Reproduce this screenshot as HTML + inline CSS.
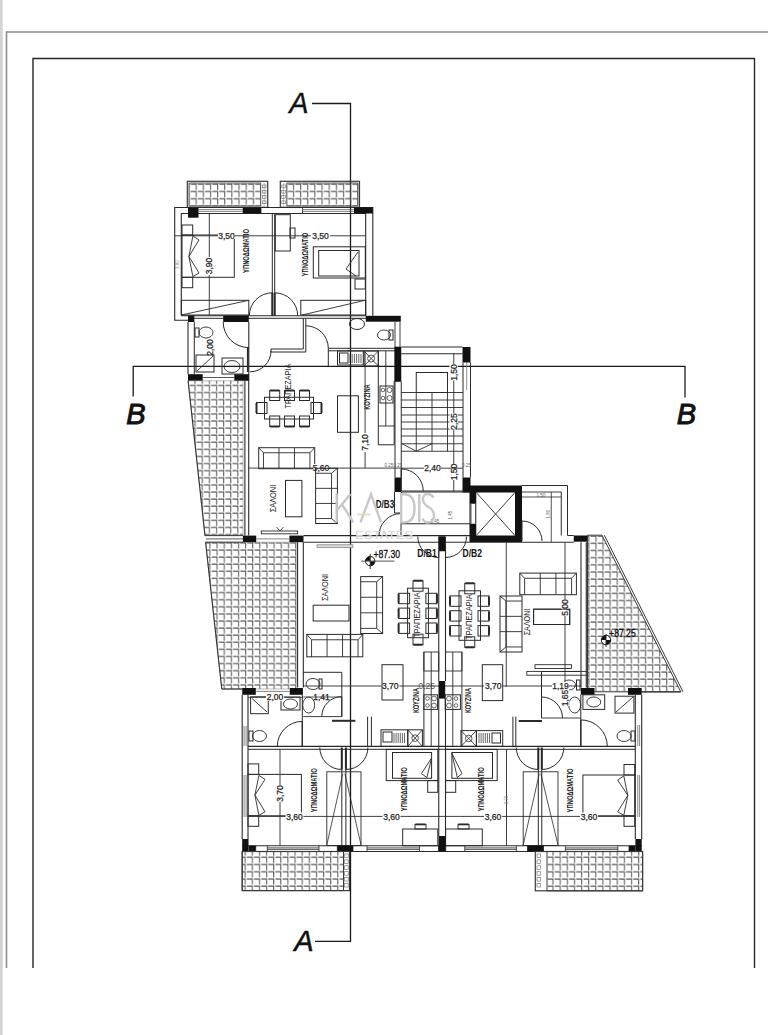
<!DOCTYPE html>
<html><head><meta charset="utf-8"><style>
html,body{margin:0;padding:0;background:#fff;width:768px;height:1035px;overflow:hidden}
svg{display:block;position:absolute;left:0;top:0}
</style></head><body>
<svg width="768" height="1035" viewBox="0 0 768 1035">
<defs><linearGradient id="lg" x1="0" x2="1"><stop offset="0" stop-color="#cfcfcf"/><stop offset="0.7" stop-color="#d8d8d8"/><stop offset="1" stop-color="#f4f4f4"/></linearGradient></defs>
<rect x="0" y="0" width="3.2" height="1035" fill="url(#lg)"/>
<path d="M6.5,968 V32 H768" stroke="#8e8e8e" stroke-width="1.6" fill="none"/>
<path d="M33,968 V58.5 H754.5 V968" stroke="#262626" stroke-width="1.4" fill="none"/>
<text x="299" y="102.5" font-family="Liberation Sans" font-size="29" text-anchor="middle" dominant-baseline="central" font-weight="normal" font-style="italic" letter-spacing="0" fill="#111" stroke="#111" stroke-width="0.3">A</text>
<path d="M312,103.5 H350.5 V941.4 H315" stroke="#1a1a1a" stroke-width="1.3" fill="none"/>
<text x="304" y="941.3" font-family="Liberation Sans" font-size="29" text-anchor="middle" dominant-baseline="central" font-weight="normal" font-style="italic" letter-spacing="0" fill="#111" stroke="#111" stroke-width="0.5">A</text>
<path d="M133.2,396.5 V366.3 H685 V397.5" stroke="#1a1a1a" stroke-width="1.3" fill="none"/>
<text x="136" y="414" font-family="Liberation Sans" font-size="29" text-anchor="middle" dominant-baseline="central" font-weight="normal" font-style="italic" letter-spacing="0" fill="#111" stroke="#111" stroke-width="1.0">B</text>
<text x="686.5" y="413.7" font-family="Liberation Sans" font-size="29" text-anchor="middle" dominant-baseline="central" font-weight="normal" font-style="italic" letter-spacing="0" fill="#111" stroke="#111" stroke-width="1.0">B</text>
<rect x="187.3" y="181.3" width="80.4" height="26.0" stroke="#3a3a3a" stroke-width="1.2" fill="none"/>
<pattern id="p_bal1" patternUnits="userSpaceOnUse" x="190.2" y="183.3" width="7.15" height="7.2"><path d="M0.5,1 H6 V6.7" stroke="#4a4a4a" stroke-width="0.95" fill="none"/></pattern>
<polygon points="189,183 260.7,183 260.7,206 189,206" fill="url(#p_bal1)" stroke="#3a3a3a" stroke-width="0.8"/>
<line x1="264.2" y1="183" x2="264.2" y2="206" stroke="#999" stroke-width="0.6"/>
<rect x="262.3" y="185.0" width="3.7" height="2.8" stroke="#666" stroke-width="0.6" fill="none"/>
<rect x="262.3" y="190.3" width="3.7" height="2.8" stroke="#666" stroke-width="0.6" fill="none"/>
<rect x="262.3" y="195.6" width="3.7" height="2.8" stroke="#666" stroke-width="0.6" fill="none"/>
<rect x="262.3" y="200.9" width="3.7" height="2.8" stroke="#666" stroke-width="0.6" fill="none"/>
<rect x="280.3" y="181.3" width="79.2" height="26.0" stroke="#3a3a3a" stroke-width="1.2" fill="none"/>
<pattern id="p_bal2" patternUnits="userSpaceOnUse" x="287.5" y="183.3" width="7.15" height="7.2"><path d="M0.5,1 H6 V6.7" stroke="#4a4a4a" stroke-width="0.95" fill="none"/></pattern>
<polygon points="286.8,183 358,183 358,206 286.8,206" fill="url(#p_bal2)" stroke="#3a3a3a" stroke-width="0.8"/>
<line x1="283.6" y1="183" x2="283.6" y2="206" stroke="#999" stroke-width="0.6"/>
<rect x="281.8" y="185.0" width="3.6" height="2.8" stroke="#666" stroke-width="0.6" fill="none"/>
<rect x="281.8" y="190.3" width="3.6" height="2.8" stroke="#666" stroke-width="0.6" fill="none"/>
<rect x="281.8" y="195.6" width="3.6" height="2.8" stroke="#666" stroke-width="0.6" fill="none"/>
<rect x="281.8" y="200.9" width="3.6" height="2.8" stroke="#666" stroke-width="0.6" fill="none"/>
<path d="M188,320.3 H174.7 V207.5 H372.8 V315.8" stroke="#2a2a2a" stroke-width="1.1" fill="none"/>
<path d="M181.3,315 V213.5 H365.7 V315.8" stroke="#2a2a2a" stroke-width="1.1" fill="none"/>
<line x1="198.5" y1="209.6" x2="242.7" y2="209.6" stroke="#555" stroke-width="0.7"/>
<line x1="198.5" y1="211.4" x2="242.7" y2="211.4" stroke="#555" stroke-width="0.7"/>
<rect x="261" y="207.5" width="41.4" height="6.0" stroke="#2a2a2a" stroke-width="0.8" fill="none"/>
<line x1="302.4" y1="209.6" x2="354" y2="209.6" stroke="#555" stroke-width="0.7"/>
<line x1="302.4" y1="211.4" x2="354" y2="211.4" stroke="#555" stroke-width="0.7"/>
<rect x="188" y="207.7" width="10.5" height="10.0" fill="#111"/>
<rect x="242.7" y="207.7" width="18.3" height="5.6" fill="#111"/>
<rect x="354" y="207.5" width="18.8" height="6.0" fill="#111"/>
<line x1="272.3" y1="213.5" x2="272.3" y2="315.8" stroke="#2a2a2a" stroke-width="1"/>
<line x1="274.7" y1="213.5" x2="274.7" y2="315.8" stroke="#2a2a2a" stroke-width="1"/>
<rect x="182" y="235" width="52.3" height="42.3" stroke="#2a2a2a" stroke-width="1" fill="none"/>
<rect x="182" y="225" width="10.7" height="10" stroke="#2a2a2a" stroke-width="1" fill="none"/>
<rect x="182" y="277.3" width="10.7" height="10.4" stroke="#2a2a2a" stroke-width="1" fill="none"/>
<polygon points="192.9,236 199,240 188.9,256.5" stroke="#2a2a2a" stroke-width="0.9" fill="none"/>
<polygon points="188.9,256.5 199,273 192.9,276.6" stroke="#2a2a2a" stroke-width="0.9" fill="none"/>
<text x="177.6" y="264.5" font-family="Liberation Sans" font-size="4.5" text-anchor="middle" dominant-baseline="central" font-weight="normal" font-style="normal" letter-spacing="0" fill="#888" transform="rotate(-90 177.6 264.5)">3.90</text>
<line x1="174.7" y1="235.8" x2="365.7" y2="235.8" stroke="#2a2a2a" stroke-width="0.9"/>
<rect x="218" y="231" width="17" height="8" fill="#fff"/>
<rect x="311" y="231" width="19" height="8" fill="#fff"/>
<text x="226.5" y="236" font-family="Liberation Sans" font-size="8.5" text-anchor="middle" dominant-baseline="central" font-weight="normal" font-style="normal" letter-spacing="0" fill="#222" stroke="#222" stroke-width="0.25">3,50</text>
<text x="320.5" y="236" font-family="Liberation Sans" font-size="8.5" text-anchor="middle" dominant-baseline="central" font-weight="normal" font-style="normal" letter-spacing="0" fill="#222" stroke="#222" stroke-width="0.25">3,50</text>
<line x1="209.3" y1="213.5" x2="209.3" y2="315" stroke="#2a2a2a" stroke-width="0.9"/>
<rect x="205" y="257" width="9" height="18" fill="#fff"/>
<text x="209.3" y="266" font-family="Liberation Sans" font-size="8.5" text-anchor="middle" dominant-baseline="central" font-weight="normal" font-style="normal" letter-spacing="0" fill="#222" stroke="#222" stroke-width="0.25" transform="rotate(-90 209.3 266)">3,90</text>
<text x="246" y="251" font-family="Liberation Sans" font-size="8.7" text-anchor="middle" dominant-baseline="central" font-weight="bold" font-style="normal" letter-spacing="0" fill="#222" textLength="44" lengthAdjust="spacingAndGlyphs" transform="rotate(-90 246 251)">ΥΠΝΟΔΩΜΑΤΙΟ</text>
<text x="304.5" y="254.5" font-family="Liberation Sans" font-size="8.7" text-anchor="middle" dominant-baseline="central" font-weight="bold" font-style="normal" letter-spacing="0" fill="#222" textLength="43.5" lengthAdjust="spacingAndGlyphs" transform="rotate(-90 304.5 254.5)">ΥΠΝΟΔΩΜΑΤΙΟ</text>
<rect x="275.3" y="214.7" width="15.0" height="36.3" stroke="#2a2a2a" stroke-width="1" fill="none"/>
<rect x="290" y="228" width="5" height="10" stroke="#2a2a2a" stroke-width="1" fill="none"/>
<rect x="313.3" y="246.8" width="52.0" height="31.2" stroke="#2a2a2a" stroke-width="1" fill="none"/>
<rect x="318.7" y="250.5" width="40.3" height="25.5" stroke="#2a2a2a" stroke-width="1" fill="none"/>
<polyline points="358,252 346,269 356,276" stroke="#2a2a2a" stroke-width="0.9" fill="none"/>
<rect x="355" y="279" width="10.3" height="10" stroke="#2a2a2a" stroke-width="1" fill="none"/>
<rect x="181.3" y="300.3" width="67.5" height="14.7" stroke="#2a2a2a" stroke-width="1" fill="none"/>
<line x1="181.3" y1="315" x2="248.8" y2="300.3" stroke="#2a2a2a" stroke-width="0.9"/>
<rect x="300.8" y="300.3" width="64.9" height="14.7" stroke="#2a2a2a" stroke-width="1" fill="none"/>
<line x1="302" y1="315" x2="365" y2="300.3" stroke="#2a2a2a" stroke-width="0.9"/>
<line x1="181.3" y1="315.8" x2="366" y2="315.8" stroke="#2a2a2a" stroke-width="1.1"/>
<line x1="249" y1="318.3" x2="366" y2="318.3" stroke="#2a2a2a" stroke-width="1.0"/>
<path d="M249.30,315.80 A23,23 0 0 1 272.30,292.80" stroke="#2a2a2a" stroke-width="1" fill="none"/>
<line x1="272.3" y1="292.8" x2="272.3" y2="315.8" stroke="#2a2a2a" stroke-width="2"/>
<path d="M274.70,292.80 A23,23 0 0 1 297.70,315.80" stroke="#2a2a2a" stroke-width="1" fill="none"/>
<line x1="274.7" y1="292.8" x2="274.7" y2="315.8" stroke="#2a2a2a" stroke-width="2"/>
<line x1="188" y1="318.3" x2="249" y2="318.3" stroke="#2a2a2a" stroke-width="1"/>
<rect x="188" y="315.8" width="6.3" height="6.2" fill="#111"/>
<rect x="223.2" y="315.8" width="25.6" height="6.2" fill="#111"/>
<line x1="188" y1="322" x2="188" y2="374.2" stroke="#2a2a2a" stroke-width="1.1"/>
<line x1="194.3" y1="322" x2="194.3" y2="374.2" stroke="#2a2a2a" stroke-width="1"/>
<line x1="248.8" y1="322" x2="248.8" y2="381" stroke="#2a2a2a" stroke-width="1.1"/>
<rect x="188" y="374.2" width="14.7" height="6.6" fill="#111"/>
<rect x="234.3" y="374.2" width="14.5" height="6.6" fill="#111"/>
<line x1="202.7" y1="377.5" x2="234.3" y2="377.5" stroke="#2a2a2a" stroke-width="0.8"/>
<ellipse cx="206" cy="332.5" rx="7" ry="5.5" stroke="#2a2a2a" stroke-width="0.9" fill="none"/>
<rect x="195" y="328" width="4" height="9" stroke="#2a2a2a" stroke-width="1" fill="none"/>
<rect x="196" y="355" width="18" height="17" stroke="#2a2a2a" stroke-width="1" fill="none"/>
<line x1="197" y1="371" x2="213" y2="356" stroke="#2a2a2a" stroke-width="0.9"/>
<rect x="222" y="358" width="21" height="16" stroke="#2a2a2a" stroke-width="1" fill="none"/>
<ellipse cx="232" cy="366.5" rx="8" ry="6" stroke="#2a2a2a" stroke-width="0.9" fill="none"/>
<path d="M248.80,347.60 A25.6,25.6 0 0 1 223.20,322.00" stroke="#2a2a2a" stroke-width="1" fill="none"/>
<line x1="247.8" y1="347" x2="247.8" y2="372" stroke="#2a2a2a" stroke-width="1.8"/>
<text x="209.5" y="347.5" font-family="Liberation Sans" font-size="8.5" text-anchor="middle" dominant-baseline="central" font-weight="normal" font-style="normal" letter-spacing="0" fill="#222" stroke="#222" stroke-width="0.25" transform="rotate(-90 209.5 347.5)">2,00</text>
<path d="M271,349 H303.3 V318.3" stroke="#2a2a2a" stroke-width="1" fill="none"/>
<path d="M271,352 H305.8 V318.3" stroke="#2a2a2a" stroke-width="1" fill="none"/>
<line x1="271" y1="349" x2="271" y2="352" stroke="#2a2a2a" stroke-width="1"/>
<path d="M305.80,325.80 A22.5,22.5 0 0 1 328.30,348.30" stroke="#2a2a2a" stroke-width="1" fill="none"/>
<path d="M271.00,350.80 A21,21 0 0 1 250.00,371.80" stroke="#2a2a2a" stroke-width="1" fill="none"/>
<rect x="365.8" y="315.8" width="35.0" height="5.9" fill="#111"/>
<rect x="394.7" y="346.7" width="6.1" height="35.0" fill="#111"/>
<ellipse cx="357" cy="324" rx="7.5" ry="5.5" stroke="#2a2a2a" stroke-width="1" fill="none"/>
<ellipse cx="384" cy="335" rx="6.5" ry="5" stroke="#2a2a2a" stroke-width="0.9" fill="none"/>
<rect x="389" y="330" width="4" height="10" stroke="#2a2a2a" stroke-width="1" fill="none"/>
<line x1="395" y1="322" x2="395" y2="347" stroke="#2a2a2a" stroke-width="0.9"/>
<line x1="400" y1="322" x2="400" y2="347" stroke="#2a2a2a" stroke-width="0.9"/>
<line x1="328.3" y1="348.3" x2="395" y2="348.3" stroke="#2a2a2a" stroke-width="1"/>
<line x1="328.3" y1="350.8" x2="395" y2="350.8" stroke="#2a2a2a" stroke-width="1"/>
<line x1="328.3" y1="348.3" x2="328.3" y2="366" stroke="#2a2a2a" stroke-width="1"/>
<rect x="337.5" y="351" width="25.8" height="14" stroke="#2a2a2a" stroke-width="1" fill="none"/>
<rect x="339.5" y="353" width="8.5" height="10" stroke="#2a2a2a" stroke-width="1" fill="none"/>
<line x1="350.0" y1="354" x2="350.0" y2="363" stroke="#2a2a2a" stroke-width="0.7"/>
<line x1="352.2" y1="354" x2="352.2" y2="363" stroke="#2a2a2a" stroke-width="0.7"/>
<line x1="354.4" y1="354" x2="354.4" y2="363" stroke="#2a2a2a" stroke-width="0.7"/>
<line x1="356.6" y1="354" x2="356.6" y2="363" stroke="#2a2a2a" stroke-width="0.7"/>
<line x1="358.8" y1="354" x2="358.8" y2="363" stroke="#2a2a2a" stroke-width="0.7"/>
<line x1="361.0" y1="354" x2="361.0" y2="363" stroke="#2a2a2a" stroke-width="0.7"/>
<rect x="364" y="351" width="14.3" height="15" stroke="#2a2a2a" stroke-width="1" fill="none"/>
<line x1="364" y1="351" x2="378.3" y2="366" stroke="#2a2a2a" stroke-width="0.8"/>
<line x1="378.3" y1="351" x2="364" y2="366" stroke="#2a2a2a" stroke-width="0.8"/>
<circle cx="371.1" cy="358.5" r="3.5" stroke="#2a2a2a" stroke-width="0.8" fill="none"/>
<line x1="378.3" y1="351" x2="378.3" y2="444.8" stroke="#2a2a2a" stroke-width="1"/>
<line x1="385.8" y1="351" x2="385.8" y2="426" stroke="#2a2a2a" stroke-width="0.9"/>
<line x1="378.3" y1="426" x2="394.2" y2="426" stroke="#2a2a2a" stroke-width="0.9"/>
<line x1="394.2" y1="381" x2="394.2" y2="444.8" stroke="#2a2a2a" stroke-width="1"/>
<line x1="378.3" y1="444.8" x2="394.2" y2="444.8" stroke="#2a2a2a" stroke-width="1"/>
<rect x="380" y="386" width="13" height="17" stroke="#2a2a2a" stroke-width="1" fill="none"/>
<circle cx="383" cy="390" r="1.8" stroke="#2a2a2a" stroke-width="0.7" fill="none"/>
<circle cx="389.5" cy="390" r="2.5" stroke="#2a2a2a" stroke-width="0.7" fill="none"/>
<circle cx="383" cy="398" r="1.8" stroke="#2a2a2a" stroke-width="0.7" fill="none"/>
<circle cx="389.5" cy="398" r="2.5" stroke="#2a2a2a" stroke-width="0.7" fill="none"/>
<text x="367.3" y="397" font-family="Liberation Sans" font-size="8.7" text-anchor="middle" dominant-baseline="central" font-weight="bold" font-style="normal" letter-spacing="0" fill="#222" textLength="25.5" lengthAdjust="spacingAndGlyphs" transform="rotate(-90 367.3 397)">ΚΟΥΖΙΝΑ</text>
<rect x="337.5" y="395.8" width="20.9" height="36.5" stroke="#2a2a2a" stroke-width="1" fill="none"/>
<line x1="365.1" y1="352" x2="365.1" y2="468" stroke="#2a2a2a" stroke-width="0.9"/>
<rect x="361" y="433" width="8" height="19" fill="#fff"/>
<text x="365.1" y="442.5" font-family="Liberation Sans" font-size="8.5" text-anchor="middle" dominant-baseline="central" font-weight="normal" font-style="normal" letter-spacing="0" fill="#222" stroke="#222" stroke-width="0.25" transform="rotate(-90 365.1 442.5)">7,10</text>
<pattern id="p_balL1" patternUnits="userSpaceOnUse" x="182" y="384.5" width="7.13" height="7.1"><path d="M0.5,1 H6 V6.6" stroke="#4a4a4a" stroke-width="0.95" fill="none"/></pattern>
<polygon points="188.1,380.8 243,380.8 243,535.6 205,535.6" fill="url(#p_balL1)" stroke="#777" stroke-width="0.5"/>
<line x1="188.1" y1="380.8" x2="205" y2="535.6" stroke="#333" stroke-width="1.1"/>
<pattern id="p_balL2" patternUnits="userSpaceOnUse" x="204" y="541.9" width="7.13" height="7.1"><path d="M0.5,1 H6 V6.6" stroke="#4a4a4a" stroke-width="0.95" fill="none"/></pattern>
<polygon points="205.6,542.2 296.3,542.2 296.3,689 221.8,689" fill="url(#p_balL2)" stroke="#777" stroke-width="0.5"/>
<line x1="205.6" y1="542.2" x2="221.8" y2="689" stroke="#333" stroke-width="1.1"/>
<path d="M205,535.6 H243 M205.6,542.2 H243" stroke="#3a3a3a" stroke-width="1" fill="none"/>
<line x1="206" y1="538.9" x2="243" y2="538.9" stroke="#777" stroke-width="1.2"/>
<line x1="244.9" y1="380.8" x2="244.9" y2="535.6" stroke="#2a2a2a" stroke-width="1.1"/>
<line x1="248.7" y1="380.8" x2="248.7" y2="535.6" stroke="#2a2a2a" stroke-width="1.1"/>
<rect x="269.7" y="390.5" width="10.0" height="10.0" stroke="#2a2a2a" stroke-width="1" fill="none"/>
<line x1="270.2" y1="390.5" x2="279.2" y2="390.5" stroke="#2a2a2a" stroke-width="2"/>
<rect x="269.7" y="416" width="10.0" height="10.5" stroke="#2a2a2a" stroke-width="1" fill="none"/>
<line x1="270.2" y1="426.5" x2="279.2" y2="426.5" stroke="#2a2a2a" stroke-width="2"/>
<rect x="284.5" y="390.5" width="10.0" height="10.0" stroke="#2a2a2a" stroke-width="1" fill="none"/>
<line x1="285.0" y1="390.5" x2="294.0" y2="390.5" stroke="#2a2a2a" stroke-width="2"/>
<rect x="284.5" y="416" width="10.0" height="10.5" stroke="#2a2a2a" stroke-width="1" fill="none"/>
<line x1="285.0" y1="426.5" x2="294.0" y2="426.5" stroke="#2a2a2a" stroke-width="2"/>
<rect x="299.5" y="390.5" width="10.0" height="10.0" stroke="#2a2a2a" stroke-width="1" fill="none"/>
<line x1="300.0" y1="390.5" x2="309.0" y2="390.5" stroke="#2a2a2a" stroke-width="2"/>
<rect x="299.5" y="416" width="10.0" height="10.5" stroke="#2a2a2a" stroke-width="1" fill="none"/>
<line x1="300.0" y1="426.5" x2="309.0" y2="426.5" stroke="#2a2a2a" stroke-width="2"/>
<rect x="311" y="402.5" width="10.5" height="11.0" stroke="#2a2a2a" stroke-width="1" fill="none"/>
<line x1="321.5" y1="403" x2="321.5" y2="413" stroke="#2a2a2a" stroke-width="2"/>
<rect x="256.5" y="402.5" width="10.5" height="11.0" stroke="#2a2a2a" stroke-width="1" fill="none"/>
<line x1="256.5" y1="403" x2="256.5" y2="413" stroke="#2a2a2a" stroke-width="2"/>
<rect x="264.5" y="397.3" width="49.0" height="21.7" stroke="#2a2a2a" stroke-width="1" fill="none"/>
<text x="287.5" y="386" font-family="Liberation Sans" font-size="8.5" text-anchor="middle" dominant-baseline="central" font-weight="normal" font-style="normal" letter-spacing="0" fill="#222" textLength="45" lengthAdjust="spacingAndGlyphs" transform="rotate(-90 287.5 386)">ΤΡΑΠΕΖΑΡΙΑ</text>
<rect x="258.7" y="447.7" width="56.0" height="21.0" stroke="#2a2a2a" stroke-width="1" fill="none"/>
<path d="M263.46,468.7 V452.74 L258.7,447.7 M309.94,468.7 V452.74 L314.7,447.7 M263.46,452.74 H309.94" stroke="#2a2a2a" stroke-width="0.9" fill="none"/>
<line x1="278.9533333333333" y1="447.7" x2="278.9533333333333" y2="468.7" stroke="#2a2a2a" stroke-width="0.9"/>
<line x1="294.44666666666666" y1="447.7" x2="294.44666666666666" y2="468.7" stroke="#2a2a2a" stroke-width="0.9"/>
<line x1="248.7" y1="468.1" x2="401" y2="468.1" stroke="#2a2a2a" stroke-width="0.9"/>
<rect x="313" y="464" width="16" height="8" fill="#fff"/>
<text x="321" y="467.5" font-family="Liberation Sans" font-size="8.5" text-anchor="middle" dominant-baseline="central" font-weight="normal" font-style="normal" letter-spacing="0" fill="#222" stroke="#222" stroke-width="0.25">5,60</text>
<text x="389" y="465.5" font-family="Liberation Sans" font-size="4.5" text-anchor="middle" dominant-baseline="central" font-weight="normal" font-style="normal" letter-spacing="0" fill="#666">0.25</text>
<rect x="315.6" y="468.3" width="21.8" height="55.2" stroke="#2a2a2a" stroke-width="1" fill="none"/>
<path d="M315.6,473.26800000000003 H331.514 L337.4,468.3 M315.6,518.532 H331.514 L337.4,523.5 M331.514,473.26800000000003 V518.532" stroke="#2a2a2a" stroke-width="0.9" fill="none"/>
<line x1="315.6" y1="488.35600000000005" x2="337.4" y2="488.35600000000005" stroke="#2a2a2a" stroke-width="0.9"/>
<line x1="315.6" y1="503.444" x2="337.4" y2="503.444" stroke="#2a2a2a" stroke-width="0.9"/>
<rect x="285.5" y="480.4" width="16.4" height="36.4" stroke="#2a2a2a" stroke-width="1" fill="none"/>
<text x="273.2" y="498.5" font-family="Liberation Sans" font-size="9" text-anchor="middle" dominant-baseline="central" font-weight="normal" font-style="normal" letter-spacing="0" fill="#222" textLength="27.5" lengthAdjust="spacingAndGlyphs" transform="rotate(-90 273.2 498.5)">ΣΑΛΟΝΙ</text>
<rect x="261.3" y="531" width="36.3" height="2.8" stroke="#2a2a2a" stroke-width="0.9" fill="none"/>
<path d="M276.5,527 L280,531 L283.5,527" stroke="#2a2a2a" stroke-width="0.8" fill="none"/>
<line x1="303.5" y1="535.6" x2="470" y2="535.6" stroke="#2a2a2a" stroke-width="1.1"/>
<line x1="303.5" y1="542.2" x2="470" y2="542.2" stroke="#2a2a2a" stroke-width="1.1"/>
<rect x="242.9" y="535.6" width="13.3" height="6.6" fill="#111"/>
<rect x="289.4" y="535.6" width="14.1" height="6.6" fill="#111"/>
<line x1="256.2" y1="538.9" x2="289.4" y2="538.9" stroke="#666" stroke-width="0.8"/>
<text x="385" y="503.5" font-family="Liberation Sans" font-size="10.5" text-anchor="middle" dominant-baseline="central" font-weight="bold" font-style="normal" letter-spacing="0" fill="#111" textLength="18.5" lengthAdjust="spacingAndGlyphs">D/B3</text>
<path d="M379.00,535.60 A22,22 0 0 1 401.00,513.60" stroke="#2a2a2a" stroke-width="1" fill="none"/>
<line x1="401" y1="513.6" x2="401" y2="535.6" stroke="#2a2a2a" stroke-width="1"/>
<path d="M394.5,492 V513 H401.25 V492" stroke="#2a2a2a" stroke-width="1" fill="none"/>
<rect x="394.5" y="347" width="6.75" height="34.3" fill="#111"/>
<line x1="395" y1="381.3" x2="395" y2="477.5" stroke="#2a2a2a" stroke-width="1"/>
<line x1="401.25" y1="381.3" x2="401.25" y2="477.5" stroke="#2a2a2a" stroke-width="1"/>
<rect x="394.5" y="477.5" width="6.75" height="14.5" fill="#111"/>
<line x1="401.25" y1="347" x2="462.5" y2="347" stroke="#2a2a2a" stroke-width="1.1"/>
<line x1="401.25" y1="353.75" x2="462.5" y2="353.75" stroke="#2a2a2a" stroke-width="1"/>
<rect x="462.5" y="347" width="8.0" height="15.5" fill="#111"/>
<line x1="463" y1="362.5" x2="463" y2="477.5" stroke="#2a2a2a" stroke-width="1"/>
<line x1="470.5" y1="362.5" x2="470.5" y2="477.5" stroke="#2a2a2a" stroke-width="1"/>
<line x1="466.7" y1="362.5" x2="466.7" y2="390" stroke="#666" stroke-width="0.7"/>
<rect x="462.5" y="477.5" width="8.0" height="15.0" fill="#111"/>
<rect x="416.25" y="372.5" width="31.25" height="20.0" stroke="#2a2a2a" stroke-width="1" fill="none"/>
<line x1="401.25" y1="392.5" x2="463" y2="392.5" stroke="#2a2a2a" stroke-width="0.9"/>
<line x1="401.25" y1="400" x2="463" y2="400" stroke="#2a2a2a" stroke-width="0.9"/>
<line x1="401.25" y1="407.5" x2="463" y2="407.5" stroke="#2a2a2a" stroke-width="0.9"/>
<line x1="401.25" y1="415" x2="463" y2="415" stroke="#2a2a2a" stroke-width="0.9"/>
<line x1="401.25" y1="422" x2="463" y2="422" stroke="#2a2a2a" stroke-width="0.9"/>
<line x1="401.25" y1="429" x2="463" y2="429" stroke="#2a2a2a" stroke-width="0.9"/>
<line x1="401.25" y1="436" x2="463" y2="436" stroke="#2a2a2a" stroke-width="0.9"/>
<line x1="401.25" y1="443.75" x2="463" y2="443.75" stroke="#2a2a2a" stroke-width="0.9"/>
<line x1="401.25" y1="451.25" x2="463" y2="451.25" stroke="#2a2a2a" stroke-width="0.9"/>
<line x1="416.25" y1="392.5" x2="416.25" y2="451.25" stroke="#2a2a2a" stroke-width="0.9"/>
<line x1="432" y1="392.5" x2="432" y2="451.25" stroke="#2a2a2a" stroke-width="0.9"/>
<line x1="447.5" y1="392.5" x2="447.5" y2="451.25" stroke="#2a2a2a" stroke-width="0.9"/>
<polyline points="402,443.75 416.25,451.25 432,443.75" stroke="#2a2a2a" stroke-width="0.9" fill="none"/>
<line x1="453.75" y1="353.75" x2="453.75" y2="491" stroke="#2a2a2a" stroke-width="0.9"/>
<rect x="449.5" y="364.5" width="8.5" height="16" fill="#fff"/>
<text x="453.75" y="372.5" font-family="Liberation Sans" font-size="8.5" text-anchor="middle" dominant-baseline="central" font-weight="normal" font-style="normal" letter-spacing="0" fill="#222" stroke="#222" stroke-width="0.25" transform="rotate(-90 453.75 372.5)">1,50</text>
<rect x="449.5" y="413.5" width="8.5" height="16" fill="#fff"/>
<text x="453.75" y="421.5" font-family="Liberation Sans" font-size="8.5" text-anchor="middle" dominant-baseline="central" font-weight="normal" font-style="normal" letter-spacing="0" fill="#222" stroke="#222" stroke-width="0.25" transform="rotate(-90 453.75 421.5)">2,25</text>
<rect x="449.5" y="464" width="8.5" height="16" fill="#fff"/>
<text x="453.75" y="472" font-family="Liberation Sans" font-size="8.5" text-anchor="middle" dominant-baseline="central" font-weight="normal" font-style="normal" letter-spacing="0" fill="#222" stroke="#222" stroke-width="0.25" transform="rotate(-90 453.75 472)">1,50</text>
<line x1="401.25" y1="468.2" x2="463" y2="468.2" stroke="#2a2a2a" stroke-width="0.9"/>
<rect x="424" y="463.5" width="17" height="8" fill="#fff"/>
<text x="432.5" y="468.2" font-family="Liberation Sans" font-size="8.5" text-anchor="middle" dominant-baseline="central" font-weight="normal" font-style="normal" letter-spacing="0" fill="#222" stroke="#222" stroke-width="0.25">2,40</text>
<text x="398" y="465.5" font-family="Liberation Sans" font-size="4.5" text-anchor="middle" dominant-baseline="central" font-weight="normal" font-style="normal" letter-spacing="0" fill="#666">0.25</text>
<text x="466.5" y="465.5" font-family="Liberation Sans" font-size="4.5" text-anchor="middle" dominant-baseline="central" font-weight="normal" font-style="normal" letter-spacing="0" fill="#666">0.25</text>
<line x1="401.25" y1="491" x2="463" y2="491" stroke="#2a2a2a" stroke-width="1"/>
<path d="M401.25,469.00 A22,22 0 0 1 423.25,491.00" stroke="#2a2a2a" stroke-width="1" fill="none"/>
<line x1="401.25" y1="469" x2="401.25" y2="491" stroke="#2a2a2a" stroke-width="1.2"/>
<line x1="401.25" y1="492" x2="470" y2="492" stroke="#2a2a2a" stroke-width="1"/>
<line x1="401.25" y1="523.75" x2="470" y2="523.75" stroke="#2a2a2a" stroke-width="1"/>
<text x="450" y="515" font-family="Liberation Sans" font-size="4.5" text-anchor="middle" dominant-baseline="central" font-weight="normal" font-style="normal" letter-spacing="0" fill="#666" transform="rotate(-90 450 515)">1,45</text>
<text x="435" y="521" font-family="Liberation Sans" font-size="4.5" text-anchor="middle" dominant-baseline="central" font-weight="normal" font-style="normal" letter-spacing="0" fill="#666">2,45</text>
<rect x="469.5" y="485.5" width="52.5" height="56.5" fill="#111"/>
<rect x="476.25" y="492.5" width="38.75" height="43" fill="#fff"/>
<line x1="476.25" y1="492.5" x2="515" y2="535.5" stroke="#2a2a2a" stroke-width="0.9"/>
<line x1="515" y1="492.5" x2="476.25" y2="535.5" stroke="#2a2a2a" stroke-width="0.9"/>
<rect x="470.5" y="503.75" width="5.5" height="20" fill="#fff"/>
<line x1="471" y1="503.75" x2="471" y2="523.75" stroke="#2a2a2a" stroke-width="0.8"/>
<line x1="475.5" y1="503.75" x2="475.5" y2="523.75" stroke="#2a2a2a" stroke-width="0.8"/>
<line x1="522" y1="485.5" x2="567.5" y2="485.5" stroke="#2a2a2a" stroke-width="1"/>
<line x1="522" y1="492" x2="561.25" y2="492" stroke="#2a2a2a" stroke-width="0.9"/>
<line x1="522" y1="497" x2="561.25" y2="497" stroke="#2a2a2a" stroke-width="0.8"/>
<line x1="561.25" y1="492" x2="561.25" y2="535.5" stroke="#2a2a2a" stroke-width="1"/>
<line x1="567.5" y1="485.5" x2="567.5" y2="535.5" stroke="#2a2a2a" stroke-width="1"/>
<path d="M567.5,535.5 H573.75" stroke="#2a2a2a" stroke-width="1" fill="none"/>
<rect x="573.75" y="535.5" width="13.75" height="6.2" fill="#111"/>
<line x1="551.25" y1="492" x2="551.25" y2="542" stroke="#2a2a2a" stroke-width="0.8"/>
<text x="541" y="495" font-family="Liberation Sans" font-size="4.5" text-anchor="middle" dominant-baseline="central" font-weight="normal" font-style="normal" letter-spacing="0" fill="#666">1,50</text>
<text x="548" y="514" font-family="Liberation Sans" font-size="4.5" text-anchor="middle" dominant-baseline="central" font-weight="normal" font-style="normal" letter-spacing="0" fill="#666" transform="rotate(-90 548 514)">1,80</text>
<path d="M522.00,521.00 A20,20 0 0 1 542.00,541.00" stroke="#2a2a2a" stroke-width="1" fill="none"/>
<line x1="522" y1="521" x2="522" y2="541" stroke="#2a2a2a" stroke-width="1"/>
<g stroke="#c8c8c8" stroke-width="2.4" fill="none" stroke-linecap="butt"><path d="M336.7,493.5 V522.4 M350.5,494 L336.9,510.5 M342.3,504.8 L353.3,522.4"/><path d="M360.5,522.4 L371,494.2 L381,522.4"/><path d="M401.2,494.2 H404 C412,494.2 414.5,501 414.5,508.3 C414.5,515.5 412,522.4 404,522.4 H401.2 Z"/><path d="M419.3,494 V522.4"/><path d="M433.5,497.5 C431.5,494.5 429,494 427.5,494 C424.5,494 423,496.5 423,499.5 C423,503.5 426,505.5 428.5,507 C431.5,508.8 434,511 434,515.5 C434,519.5 431.5,522.5 428,522.5 C425.5,522.5 423.5,521 422.6,518.5"/></g>
<line x1="357.5" y1="514.5" x2="370.5" y2="514.5" stroke="#e3d8b8" stroke-width="1.6"/>
<text x="384.2" y="535.3" font-family="Liberation Sans" font-size="10" text-anchor="middle" dominant-baseline="central" font-weight="normal" font-style="normal" letter-spacing="0" fill="#d3d3d3" textLength="58.5" lengthAdjust="spacingAndGlyphs">ESTATES</text>
<line x1="297.6" y1="542.2" x2="297.6" y2="687.4" stroke="#2a2a2a" stroke-width="1.1"/>
<line x1="303.3" y1="542.2" x2="303.3" y2="687.4" stroke="#2a2a2a" stroke-width="1.1"/>
<rect x="317" y="544.8" width="35.9" height="2.8" stroke="#888" stroke-width="0.8" fill="#ddd"/>
<text x="325.2" y="587.5" font-family="Liberation Sans" font-size="9" text-anchor="middle" dominant-baseline="central" font-weight="normal" font-style="normal" letter-spacing="0" fill="#222" textLength="27.2" lengthAdjust="spacingAndGlyphs" transform="rotate(-90 325.2 587.5)">ΣΑΛΟΝΙ</text>
<rect x="313.2" y="605.2" width="35.8" height="15.8" stroke="#2a2a2a" stroke-width="1" fill="none"/>
<rect x="306.8" y="634.4" width="56.0" height="22.4" stroke="#2a2a2a" stroke-width="1" fill="none"/>
<path d="M311.56,656.8 V639.776 L306.8,634.4 M358.04,656.8 V639.776 L362.8,634.4 M311.56,639.776 H358.04" stroke="#2a2a2a" stroke-width="0.9" fill="none"/>
<line x1="327.05333333333334" y1="634.4" x2="327.05333333333334" y2="656.8" stroke="#2a2a2a" stroke-width="0.9"/>
<line x1="342.5466666666667" y1="634.4" x2="342.5466666666667" y2="656.8" stroke="#2a2a2a" stroke-width="0.9"/>
<rect x="360.7" y="576.6" width="21.9" height="56.9" stroke="#2a2a2a" stroke-width="1" fill="none"/>
<path d="M360.7,581.721 H376.687 L382.6,576.6 M360.7,628.379 H376.687 L382.6,633.5 M376.687,581.721 V628.379" stroke="#2a2a2a" stroke-width="0.9" fill="none"/>
<line x1="360.7" y1="597.2736666666667" x2="382.6" y2="597.2736666666667" stroke="#2a2a2a" stroke-width="0.9"/>
<line x1="360.7" y1="612.8263333333333" x2="382.6" y2="612.8263333333333" stroke="#2a2a2a" stroke-width="0.9"/>
<text x="386.7" y="553.8" font-family="Liberation Sans" font-size="10.5" text-anchor="middle" dominant-baseline="central" font-weight="normal" font-style="normal" letter-spacing="0" fill="#111" textLength="26.6" lengthAdjust="spacingAndGlyphs" stroke="#111" stroke-width="0.3">+87.30</text>
<circle cx="370.2" cy="561.1" r="4.7" stroke="#111" stroke-width="1" fill="#fff"/>
<path d="M370.2,561.1 V556.4 A4.7,4.7 0 0 0 365.5,561.1 Z" stroke="none" stroke-width="0" fill="#111"/>
<path d="M370.2,561.1 V565.8000000000001 A4.7,4.7 0 0 0 374.9,561.1 Z" stroke="none" stroke-width="0" fill="#111"/>
<line x1="361.2" y1="561.1" x2="394.5" y2="561.1" stroke="#555" stroke-width="1"/>
<line x1="370.2" y1="554" x2="370.2" y2="569" stroke="#333" stroke-width="1"/>
<rect x="398.6" y="593.3" width="11.0" height="10.4" stroke="#2a2a2a" stroke-width="1" fill="none"/>
<line x1="398.6" y1="594.0" x2="398.6" y2="603.0" stroke="#2a2a2a" stroke-width="2"/>
<rect x="425.9" y="593.3" width="11.0" height="10.4" stroke="#2a2a2a" stroke-width="1" fill="none"/>
<line x1="436.9" y1="594.0" x2="436.9" y2="603.0" stroke="#2a2a2a" stroke-width="2"/>
<rect x="398.6" y="608.1" width="11.0" height="10.4" stroke="#2a2a2a" stroke-width="1" fill="none"/>
<line x1="398.6" y1="608.8000000000001" x2="398.6" y2="617.8000000000001" stroke="#2a2a2a" stroke-width="2"/>
<rect x="425.9" y="608.1" width="11.0" height="10.4" stroke="#2a2a2a" stroke-width="1" fill="none"/>
<line x1="436.9" y1="608.8000000000001" x2="436.9" y2="617.8000000000001" stroke="#2a2a2a" stroke-width="2"/>
<rect x="398.6" y="623.0" width="11.0" height="10.4" stroke="#2a2a2a" stroke-width="1" fill="none"/>
<line x1="398.6" y1="623.7" x2="398.6" y2="632.7" stroke="#2a2a2a" stroke-width="2"/>
<rect x="425.9" y="623.0" width="11.0" height="10.4" stroke="#2a2a2a" stroke-width="1" fill="none"/>
<line x1="436.9" y1="623.7" x2="436.9" y2="632.7" stroke="#2a2a2a" stroke-width="2"/>
<rect x="413.0" y="580.7" width="10.0" height="10.5" stroke="#2a2a2a" stroke-width="1" fill="none"/>
<line x1="413.5" y1="580.7" x2="422.5" y2="580.7" stroke="#2a2a2a" stroke-width="2"/>
<rect x="413.0" y="634.2" width="10.0" height="10.5" stroke="#2a2a2a" stroke-width="1" fill="none"/>
<line x1="413.5" y1="644.7" x2="422.5" y2="644.7" stroke="#2a2a2a" stroke-width="2"/>
<rect x="407.6" y="588.2" width="20.8" height="49.5" stroke="#2a2a2a" stroke-width="1" fill="none"/>
<text x="416.7" y="615" font-family="Liberation Sans" font-size="9.5" text-anchor="middle" dominant-baseline="central" font-weight="normal" font-style="normal" letter-spacing="0" fill="#222" textLength="45.5" lengthAdjust="spacingAndGlyphs" transform="rotate(-90 416.7 615)">ΤΡΑΠΕΖΑΡΙΑ</text>
<rect x="450" y="595.8999999999999" width="11" height="10.4" stroke="#2a2a2a" stroke-width="1" fill="none"/>
<line x1="450" y1="596.5999999999999" x2="450" y2="605.5999999999999" stroke="#2a2a2a" stroke-width="2"/>
<rect x="478.0" y="595.8999999999999" width="11.0" height="10.4" stroke="#2a2a2a" stroke-width="1" fill="none"/>
<line x1="489.0" y1="596.5999999999999" x2="489.0" y2="605.5999999999999" stroke="#2a2a2a" stroke-width="2"/>
<rect x="450" y="610.6999999999999" width="11" height="10.4" stroke="#2a2a2a" stroke-width="1" fill="none"/>
<line x1="450" y1="611.4" x2="450" y2="620.4" stroke="#2a2a2a" stroke-width="2"/>
<rect x="478.0" y="610.6999999999999" width="11.0" height="10.4" stroke="#2a2a2a" stroke-width="1" fill="none"/>
<line x1="489.0" y1="611.4" x2="489.0" y2="620.4" stroke="#2a2a2a" stroke-width="2"/>
<rect x="450" y="625.5999999999999" width="11" height="10.4" stroke="#2a2a2a" stroke-width="1" fill="none"/>
<line x1="450" y1="626.3" x2="450" y2="635.3" stroke="#2a2a2a" stroke-width="2"/>
<rect x="478.0" y="625.5999999999999" width="11.0" height="10.4" stroke="#2a2a2a" stroke-width="1" fill="none"/>
<line x1="489.0" y1="626.3" x2="489.0" y2="635.3" stroke="#2a2a2a" stroke-width="2"/>
<rect x="464.75" y="583.3" width="10.0" height="10.5" stroke="#2a2a2a" stroke-width="1" fill="none"/>
<line x1="465.25" y1="583.3" x2="474.25" y2="583.3" stroke="#2a2a2a" stroke-width="2"/>
<rect x="464.75" y="636.8" width="10.0" height="10.5" stroke="#2a2a2a" stroke-width="1" fill="none"/>
<line x1="465.25" y1="647.3" x2="474.25" y2="647.3" stroke="#2a2a2a" stroke-width="2"/>
<rect x="459" y="590.8" width="21.5" height="49.5" stroke="#2a2a2a" stroke-width="1" fill="none"/>
<text x="468.1" y="617" font-family="Liberation Sans" font-size="9.5" text-anchor="middle" dominant-baseline="central" font-weight="normal" font-style="normal" letter-spacing="0" fill="#222" textLength="45.5" lengthAdjust="spacingAndGlyphs" transform="rotate(-90 468.1 617)">ΤΡΑΠΕΖΑΡΙΑ</text>
<rect x="438.75" y="536.25" width="6.25" height="15.0" fill="#111"/>
<line x1="438.75" y1="551.25" x2="438.75" y2="681" stroke="#2a2a2a" stroke-width="1.1"/>
<line x1="445.5" y1="551.25" x2="445.5" y2="681" stroke="#2a2a2a" stroke-width="1.1"/>
<path d="M438.75,557.50 A21,21 0 0 1 417.75,536.50" stroke="#2a2a2a" stroke-width="1" fill="none"/>
<line x1="438.75" y1="536.5" x2="438.75" y2="557.5" stroke="#2a2a2a" stroke-width="1"/>
<path d="M466.50,536.50 A21,21 0 0 1 445.50,557.50" stroke="#2a2a2a" stroke-width="1" fill="none"/>
<line x1="445.5" y1="536.5" x2="445.5" y2="557.5" stroke="#2a2a2a" stroke-width="1"/>
<text x="427" y="553" font-family="Liberation Sans" font-size="10.5" text-anchor="middle" dominant-baseline="central" font-weight="bold" font-style="normal" letter-spacing="0" fill="#111" textLength="19.5" lengthAdjust="spacingAndGlyphs">D/B1</text>
<text x="472.3" y="553" font-family="Liberation Sans" font-size="10.5" text-anchor="middle" dominant-baseline="central" font-weight="bold" font-style="normal" letter-spacing="0" fill="#111" textLength="19.5" lengthAdjust="spacingAndGlyphs">D/B2</text>
<line x1="470" y1="542.2" x2="573.75" y2="542.2" stroke="#2a2a2a" stroke-width="1.1"/>
<line x1="506.25" y1="542.2" x2="506.25" y2="687" stroke="#2a2a2a" stroke-width="0.9"/>
<rect x="500" y="596" width="22" height="56" stroke="#2a2a2a" stroke-width="1" fill="none"/>
<path d="M522,601.04 H505.94 L500,596 M522,646.96 H505.94 L500,652 M505.94,601.04 V646.96" stroke="#2a2a2a" stroke-width="0.9" fill="none"/>
<line x1="500" y1="616.3466666666666" x2="522" y2="616.3466666666666" stroke="#2a2a2a" stroke-width="0.9"/>
<line x1="500" y1="631.6533333333333" x2="522" y2="631.6533333333333" stroke="#2a2a2a" stroke-width="0.9"/>
<rect x="519.8" y="573.1" width="56.6" height="21.6" stroke="#2a2a2a" stroke-width="1" fill="none"/>
<path d="M524.611,594.7 V578.284 L519.8,573.1 M571.5889999999999,594.7 V578.284 L576.4,573.1 M524.611,578.284 H571.5889999999999" stroke="#2a2a2a" stroke-width="0.9" fill="none"/>
<line x1="540.2703333333334" y1="573.1" x2="540.2703333333334" y2="594.7" stroke="#2a2a2a" stroke-width="0.9"/>
<line x1="555.9296666666667" y1="573.1" x2="555.9296666666667" y2="594.7" stroke="#2a2a2a" stroke-width="0.9"/>
<rect x="533.6" y="609.2" width="36.1" height="15.3" stroke="#2a2a2a" stroke-width="1" fill="none"/>
<text x="526.8" y="622" font-family="Liberation Sans" font-size="9" text-anchor="middle" dominant-baseline="central" font-weight="normal" font-style="normal" letter-spacing="0" fill="#222" textLength="26.7" lengthAdjust="spacingAndGlyphs" transform="rotate(-90 526.8 622)">ΣΑΛΟΝΙ</text>
<line x1="565" y1="542.2" x2="565" y2="681" stroke="#2a2a2a" stroke-width="0.9"/>
<rect x="561" y="599" width="8.5" height="17" fill="#fff"/>
<rect x="533.6" y="609.2" width="36.1" height="15.3" stroke="#2a2a2a" stroke-width="1" fill="none"/>
<text x="565" y="607.5" font-family="Liberation Sans" font-size="8.5" text-anchor="middle" dominant-baseline="central" font-weight="normal" font-style="normal" letter-spacing="0" fill="#222" stroke="#222" stroke-width="0.25" transform="rotate(-90 565 607.5)">5,00</text>
<line x1="581" y1="542.2" x2="581" y2="687.4" stroke="#2a2a2a" stroke-width="1.1"/>
<line x1="586.3" y1="542.2" x2="586.3" y2="687.4" stroke="#2a2a2a" stroke-width="1.1"/>
<rect x="535" y="664.7" width="36.4" height="3.8" stroke="#2a2a2a" stroke-width="0.9" fill="none"/>
<rect x="526.8" y="671.4" width="60.7" height="3.8" stroke="#2a2a2a" stroke-width="0.9" fill="none"/>
<pattern id="p_balR" patternUnits="userSpaceOnUse" x="597.1" y="563.8" width="7.07" height="7.15"><path d="M0.5,1 H6 V6.65" stroke="#4a4a4a" stroke-width="0.95" fill="none"/></pattern>
<polygon points="587.5,535.2 602,535.2 680.8,691.8 587.5,691.8" fill="url(#p_balR)" stroke="#3a3a3a" stroke-width="1.0"/>
<line x1="604.3" y1="535.2" x2="683" y2="691.8" stroke="#3a3a3a" stroke-width="1.0"/>
<text x="622.4" y="633" font-family="Liberation Sans" font-size="10.5" text-anchor="middle" dominant-baseline="central" font-weight="normal" font-style="normal" letter-spacing="0" fill="#111" textLength="26.6" lengthAdjust="spacingAndGlyphs" stroke="#111" stroke-width="0.3">+87.25</text>
<circle cx="606" cy="640" r="4.7" stroke="#111" stroke-width="1" fill="#fff"/>
<path d="M606,640 V635.3 A4.7,4.7 0 0 0 601.3,640 Z" stroke="none" stroke-width="0" fill="#111"/>
<path d="M606,640 V644.7 A4.7,4.7 0 0 0 610.7,640 Z" stroke="none" stroke-width="0" fill="#111"/>
<line x1="606" y1="634" x2="606" y2="647" stroke="#333" stroke-width="1"/>
<line x1="303.3" y1="686" x2="581" y2="686" stroke="#2a2a2a" stroke-width="0.9"/>
<rect x="381.3" y="682" width="18" height="8" fill="#fff"/>
<text x="390.3" y="686" font-family="Liberation Sans" font-size="8.5" text-anchor="middle" dominant-baseline="central" font-weight="normal" font-style="normal" letter-spacing="0" fill="#222" stroke="#222" stroke-width="0.25">3,70</text>
<rect x="484.2" y="682" width="18" height="8" fill="#fff"/>
<text x="493.2" y="686" font-family="Liberation Sans" font-size="8.5" text-anchor="middle" dominant-baseline="central" font-weight="normal" font-style="normal" letter-spacing="0" fill="#222" stroke="#222" stroke-width="0.25">3,70</text>
<text x="426.8" y="686" font-family="Liberation Sans" font-size="8.5" text-anchor="middle" dominant-baseline="central" font-weight="normal" font-style="normal" letter-spacing="0" fill="#555">0,25</text>
<rect x="382" y="664.7" width="21" height="35.3" stroke="#2a2a2a" stroke-width="1" fill="none"/>
<rect x="482.3" y="664.7" width="20.4" height="35.9" stroke="#2a2a2a" stroke-width="1" fill="none"/>
<rect x="242.2" y="688" width="13.6" height="6.8" fill="#111"/>
<rect x="289.8" y="688" width="13.1" height="6.8" fill="#111"/>
<rect x="580.8" y="688" width="13.7" height="6.8" fill="#111"/>
<rect x="628" y="688" width="13.7" height="6.8" fill="#111"/>
<line x1="221.8" y1="689" x2="242.2" y2="689" stroke="#3a3a3a" stroke-width="1.2"/>
<line x1="255.8" y1="691.4" x2="289.8" y2="691.4" stroke="#666" stroke-width="0.8"/>
<line x1="594.5" y1="691.4" x2="628" y2="691.4" stroke="#666" stroke-width="0.8"/>
<line x1="641.7" y1="691.8" x2="680.8" y2="691.8" stroke="#3a3a3a" stroke-width="1.2"/>
<line x1="242.2" y1="694.8" x2="242.2" y2="839" stroke="#2a2a2a" stroke-width="1.1"/>
<line x1="248" y1="694.8" x2="248" y2="839" stroke="#2a2a2a" stroke-width="1.1"/>
<line x1="635.3" y1="694.8" x2="635.3" y2="839" stroke="#2a2a2a" stroke-width="1.1"/>
<line x1="641.7" y1="694.8" x2="641.7" y2="839" stroke="#2a2a2a" stroke-width="1.1"/>
<rect x="250.6" y="696.8" width="17.7" height="16.9" stroke="#2a2a2a" stroke-width="1" fill="none"/>
<line x1="252" y1="698.5" x2="267" y2="712" stroke="#2a2a2a" stroke-width="0.9"/>
<rect x="281" y="697" width="19" height="13" stroke="#2a2a2a" stroke-width="1" fill="none"/>
<ellipse cx="290.5" cy="704" rx="7" ry="5" stroke="#2a2a2a" stroke-width="0.9" fill="none"/>
<ellipse cx="259.5" cy="736" rx="7" ry="5.5" stroke="#2a2a2a" stroke-width="0.9" fill="none"/>
<rect x="249" y="731" width="4" height="10" stroke="#2a2a2a" stroke-width="1" fill="none"/>
<line x1="302.3" y1="694.8" x2="302.3" y2="746.4" stroke="#2a2a2a" stroke-width="1"/>
<path d="M277.30,746.40 A25,25 0 0 1 302.30,721.40" stroke="#2a2a2a" stroke-width="1" fill="none"/>
<line x1="302.3" y1="721.4" x2="302.3" y2="746.4" stroke="#2a2a2a" stroke-width="1.3"/>
<line x1="248" y1="697.4" x2="303" y2="697.4" stroke="#2a2a2a" stroke-width="0.8"/>
<rect x="266" y="693" width="18" height="8" fill="#fff"/>
<text x="275" y="697" font-family="Liberation Sans" font-size="8.5" text-anchor="middle" dominant-baseline="central" font-weight="normal" font-style="normal" letter-spacing="0" fill="#222" stroke="#222" stroke-width="0.25">2,00</text>
<rect x="314" y="693" width="16" height="8" fill="#fff"/>
<text x="321.5" y="697" font-family="Liberation Sans" font-size="8.5" text-anchor="middle" dominant-baseline="central" font-weight="normal" font-style="normal" letter-spacing="0" fill="#222" stroke="#222" stroke-width="0.25">1,41</text>
<line x1="303.3" y1="697" x2="341" y2="697" stroke="#2a2a2a" stroke-width="0.8"/>
<line x1="303.3" y1="672.3" x2="341.8" y2="672.3" stroke="#2a2a2a" stroke-width="1"/>
<line x1="341.8" y1="672.3" x2="341.8" y2="716.6" stroke="#2a2a2a" stroke-width="1"/>
<ellipse cx="313" cy="684" rx="7" ry="5.5" stroke="#2a2a2a" stroke-width="0.9" fill="none"/>
<rect x="319" y="679" width="3" height="10" stroke="#2a2a2a" stroke-width="1" fill="none"/>
<ellipse cx="308.7" cy="705" rx="6" ry="8" stroke="#2a2a2a" stroke-width="0.9" fill="none"/>
<path d="M321.80,716.60 A20,20 0 0 1 341.80,696.60" stroke="#2a2a2a" stroke-width="1" fill="none"/>
<line x1="341.8" y1="696.6" x2="341.8" y2="716.6" stroke="#2a2a2a" stroke-width="1"/>
<line x1="303.3" y1="716.6" x2="341.8" y2="716.6" stroke="#2a2a2a" stroke-width="0.9"/>
<line x1="332" y1="720.8" x2="355.4" y2="720.8" stroke="#2a2a2a" stroke-width="2"/>
<line x1="367.6" y1="716.6" x2="367.6" y2="746.4" stroke="#2a2a2a" stroke-width="1"/>
<line x1="371.4" y1="716.6" x2="371.4" y2="746.4" stroke="#2a2a2a" stroke-width="1"/>
<rect x="381" y="729.8" width="26.8" height="16.6" stroke="#2a2a2a" stroke-width="1" fill="none"/>
<rect x="383" y="732" width="9" height="10" stroke="#2a2a2a" stroke-width="1" fill="none"/>
<line x1="394.0" y1="733" x2="394.0" y2="743" stroke="#2a2a2a" stroke-width="0.7"/>
<line x1="396.1" y1="733" x2="396.1" y2="743" stroke="#2a2a2a" stroke-width="0.7"/>
<line x1="398.2" y1="733" x2="398.2" y2="743" stroke="#2a2a2a" stroke-width="0.7"/>
<line x1="400.3" y1="733" x2="400.3" y2="743" stroke="#2a2a2a" stroke-width="0.7"/>
<line x1="402.4" y1="733" x2="402.4" y2="743" stroke="#2a2a2a" stroke-width="0.7"/>
<line x1="404.5" y1="733" x2="404.5" y2="743" stroke="#2a2a2a" stroke-width="0.7"/>
<rect x="407.8" y="729.8" width="14.6" height="16.6" stroke="#2a2a2a" stroke-width="1" fill="none"/>
<line x1="407.8" y1="729.8" x2="422.4" y2="746.4" stroke="#2a2a2a" stroke-width="0.8"/>
<line x1="422.4" y1="729.8" x2="407.8" y2="746.4" stroke="#2a2a2a" stroke-width="0.8"/>
<circle cx="415.1" cy="738.1" r="3.3" stroke="#2a2a2a" stroke-width="0.8" fill="none"/>
<line x1="423.9" y1="652" x2="423.9" y2="746.4" stroke="#2a2a2a" stroke-width="1"/>
<line x1="431.2" y1="652" x2="431.2" y2="746.4" stroke="#2a2a2a" stroke-width="0.9"/>
<rect x="423.9" y="652" width="14.85" height="19" stroke="#2a2a2a" stroke-width="0.9" fill="none"/>
<rect x="423.9" y="694.8" width="13.7" height="14.6" stroke="#2a2a2a" stroke-width="1" fill="none"/>
<circle cx="427.5" cy="698.5" r="1.8" stroke="#2a2a2a" stroke-width="0.7" fill="none"/>
<circle cx="434" cy="698.5" r="2.4" stroke="#2a2a2a" stroke-width="0.7" fill="none"/>
<circle cx="427.5" cy="705.5" r="1.8" stroke="#2a2a2a" stroke-width="0.7" fill="none"/>
<circle cx="434" cy="705.5" r="2.4" stroke="#2a2a2a" stroke-width="0.7" fill="none"/>
<text x="416" y="700.5" font-family="Liberation Sans" font-size="8.7" text-anchor="middle" dominant-baseline="central" font-weight="bold" font-style="normal" letter-spacing="0" fill="#222" textLength="25" lengthAdjust="spacingAndGlyphs" transform="rotate(-90 416 700.5)">ΚΟΥΖΙΝΑ</text>
<rect x="438.5" y="681" width="6.7" height="17.6" fill="#111"/>
<line x1="438.75" y1="698.6" x2="438.75" y2="836" stroke="#2a2a2a" stroke-width="1.1"/>
<line x1="445.5" y1="698.6" x2="445.5" y2="836" stroke="#2a2a2a" stroke-width="1.1"/>
<rect x="445.2" y="694.8" width="15.2" height="14.6" stroke="#2a2a2a" stroke-width="1" fill="none"/>
<circle cx="449" cy="698.5" r="2.4" stroke="#2a2a2a" stroke-width="0.7" fill="none"/>
<circle cx="456" cy="698.5" r="1.8" stroke="#2a2a2a" stroke-width="0.7" fill="none"/>
<circle cx="449" cy="705.5" r="2.4" stroke="#2a2a2a" stroke-width="0.7" fill="none"/>
<circle cx="456" cy="705.5" r="1.8" stroke="#2a2a2a" stroke-width="0.7" fill="none"/>
<line x1="452.8" y1="652" x2="452.8" y2="746.4" stroke="#2a2a2a" stroke-width="0.9"/>
<line x1="461.9" y1="652" x2="461.9" y2="746.4" stroke="#2a2a2a" stroke-width="0.9"/>
<rect x="445.5" y="652" width="16.4" height="19" stroke="#2a2a2a" stroke-width="0.9" fill="none"/>
<text x="468" y="700.5" font-family="Liberation Sans" font-size="8.7" text-anchor="middle" dominant-baseline="central" font-weight="bold" font-style="normal" letter-spacing="0" fill="#222" textLength="25" lengthAdjust="spacingAndGlyphs" transform="rotate(-90 468 700.5)">ΚΟΥΖΙΝΑ</text>
<rect x="461" y="730.6" width="15.4" height="15.8" stroke="#2a2a2a" stroke-width="1" fill="none"/>
<line x1="461" y1="730.6" x2="476.4" y2="746.4" stroke="#2a2a2a" stroke-width="0.8"/>
<line x1="476.4" y1="730.6" x2="461" y2="746.4" stroke="#2a2a2a" stroke-width="0.8"/>
<circle cx="468.7" cy="738.5" r="3.3" stroke="#2a2a2a" stroke-width="0.8" fill="none"/>
<rect x="476.4" y="730.6" width="26.3" height="15.8" stroke="#2a2a2a" stroke-width="1" fill="none"/>
<rect x="492" y="733" width="8.5" height="10" stroke="#2a2a2a" stroke-width="1" fill="none"/>
<line x1="479.0" y1="733" x2="479.0" y2="743" stroke="#2a2a2a" stroke-width="0.7"/>
<line x1="481.1" y1="733" x2="481.1" y2="743" stroke="#2a2a2a" stroke-width="0.7"/>
<line x1="483.2" y1="733" x2="483.2" y2="743" stroke="#2a2a2a" stroke-width="0.7"/>
<line x1="485.3" y1="733" x2="485.3" y2="743" stroke="#2a2a2a" stroke-width="0.7"/>
<line x1="487.4" y1="733" x2="487.4" y2="743" stroke="#2a2a2a" stroke-width="0.7"/>
<line x1="489.5" y1="733" x2="489.5" y2="743" stroke="#2a2a2a" stroke-width="0.7"/>
<line x1="512.9" y1="716.6" x2="512.9" y2="746.4" stroke="#2a2a2a" stroke-width="1"/>
<line x1="515.8" y1="716.6" x2="515.8" y2="746.4" stroke="#2a2a2a" stroke-width="1"/>
<line x1="518.7" y1="721" x2="542" y2="721" stroke="#2a2a2a" stroke-width="2"/>
<line x1="541.5" y1="671.5" x2="580" y2="671.5" stroke="#2a2a2a" stroke-width="1"/>
<line x1="541.5" y1="671.5" x2="541.5" y2="718" stroke="#2a2a2a" stroke-width="1"/>
<line x1="541.5" y1="718" x2="580.8" y2="718" stroke="#2a2a2a" stroke-width="0.9"/>
<path d="M541.50,697.00 A21,21 0 0 1 562.50,718.00" stroke="#2a2a2a" stroke-width="1" fill="none"/>
<line x1="541.5" y1="697" x2="541.5" y2="718" stroke="#2a2a2a" stroke-width="1"/>
<ellipse cx="574.7" cy="705" rx="6" ry="8" stroke="#2a2a2a" stroke-width="0.9" fill="none"/>
<ellipse cx="569" cy="685" rx="6.5" ry="5" stroke="#2a2a2a" stroke-width="0.9" fill="none"/>
<rect x="576.5" y="680" width="3.5" height="10" stroke="#2a2a2a" stroke-width="1" fill="none"/>
<line x1="580.8" y1="694.8" x2="580.8" y2="746.4" stroke="#2a2a2a" stroke-width="1"/>
<rect x="552" y="682" width="17" height="8" fill="#fff"/>
<text x="560.5" y="686" font-family="Liberation Sans" font-size="8.5" text-anchor="middle" dominant-baseline="central" font-weight="normal" font-style="normal" letter-spacing="0" fill="#222" stroke="#222" stroke-width="0.25">1,19</text>
<rect x="561" y="690" width="8.5" height="16" fill="#fff"/>
<text x="565" y="698" font-family="Liberation Sans" font-size="8.5" text-anchor="middle" dominant-baseline="central" font-weight="normal" font-style="normal" letter-spacing="0" fill="#222" stroke="#222" stroke-width="0.25" transform="rotate(-90 565 698)">1,65</text>
<rect x="582.9" y="694.8" width="21.8" height="14.6" stroke="#2a2a2a" stroke-width="1" fill="none"/>
<ellipse cx="593.8" cy="702" rx="7" ry="5" stroke="#2a2a2a" stroke-width="0.9" fill="none"/>
<rect x="615" y="696.2" width="18.9" height="16.9" stroke="#2a2a2a" stroke-width="1" fill="none"/>
<line x1="616" y1="712" x2="633" y2="697" stroke="#2a2a2a" stroke-width="0.9"/>
<ellipse cx="624" cy="736" rx="7" ry="5.5" stroke="#2a2a2a" stroke-width="0.9" fill="none"/>
<rect x="631" y="731" width="4" height="10" stroke="#2a2a2a" stroke-width="1" fill="none"/>
<path d="M580.80,719.90 A26.5,26.5 0 0 1 607.30,746.40" stroke="#2a2a2a" stroke-width="1" fill="none"/>
<line x1="580.8" y1="719.9" x2="580.8" y2="746.4" stroke="#2a2a2a" stroke-width="1.3"/>
<line x1="248" y1="746.4" x2="635.3" y2="746.4" stroke="#2a2a2a" stroke-width="1.1"/>
<line x1="248" y1="749.3" x2="635.3" y2="749.3" stroke="#2a2a2a" stroke-width="1.0"/>
<rect x="326.8" y="771.8" width="34.2" height="73.7" stroke="#2a2a2a" stroke-width="0.9" fill="none"/>
<line x1="326.8" y1="845" x2="342.8" y2="773.6" stroke="#2a2a2a" stroke-width="0.8"/>
<line x1="361" y1="845" x2="344.9" y2="773.6" stroke="#2a2a2a" stroke-width="0.8"/>
<path d="M341.80,769.50 A22,22 0 0 1 319.80,747.50" stroke="#2a2a2a" stroke-width="1" fill="none"/>
<line x1="341.8" y1="747.5" x2="341.8" y2="769.5" stroke="#2a2a2a" stroke-width="2"/>
<path d="M367.90,747.50 A22,22 0 0 1 345.90,769.50" stroke="#2a2a2a" stroke-width="1" fill="none"/>
<line x1="345.9" y1="747.5" x2="345.9" y2="769.5" stroke="#2a2a2a" stroke-width="2"/>
<line x1="341.8" y1="749.3" x2="341.8" y2="846" stroke="#2a2a2a" stroke-width="1"/>
<line x1="345.9" y1="749.3" x2="345.9" y2="846" stroke="#2a2a2a" stroke-width="1"/>
<rect x="523.2" y="771.8" width="34.8" height="73.7" stroke="#2a2a2a" stroke-width="0.9" fill="none"/>
<line x1="523.2" y1="845" x2="539.3" y2="773.6" stroke="#2a2a2a" stroke-width="0.8"/>
<line x1="558" y1="845" x2="540.8" y2="773.6" stroke="#2a2a2a" stroke-width="0.8"/>
<path d="M538.30,769.50 A22,22 0 0 1 516.30,747.50" stroke="#2a2a2a" stroke-width="1" fill="none"/>
<line x1="538.3" y1="747.5" x2="538.3" y2="769.5" stroke="#2a2a2a" stroke-width="2"/>
<path d="M563.80,747.50 A22,22 0 0 1 541.80,769.50" stroke="#2a2a2a" stroke-width="1" fill="none"/>
<line x1="541.8" y1="747.5" x2="541.8" y2="769.5" stroke="#2a2a2a" stroke-width="2"/>
<line x1="538.3" y1="749.3" x2="538.3" y2="846" stroke="#2a2a2a" stroke-width="1"/>
<line x1="541.8" y1="749.3" x2="541.8" y2="846" stroke="#2a2a2a" stroke-width="1"/>
<rect x="248" y="774.4" width="53.4" height="41.4" stroke="#2a2a2a" stroke-width="1" fill="none"/>
<rect x="248" y="763.9" width="10.7" height="10.5" stroke="#2a2a2a" stroke-width="1" fill="none"/>
<rect x="248" y="815.8" width="10.7" height="10.5" stroke="#2a2a2a" stroke-width="1" fill="none"/>
<polygon points="258.9,775.4 265,779.4 254.9,795.0999999999999" stroke="#2a2a2a" stroke-width="0.9" fill="none"/>
<polygon points="254.9,795.0999999999999 265,811.8 258.9,815.3" stroke="#2a2a2a" stroke-width="0.9" fill="none"/>
<line x1="244.1" y1="726" x2="244.1" y2="746" stroke="#555" stroke-width="0.7"/>
<line x1="246.1" y1="726" x2="246.1" y2="746" stroke="#555" stroke-width="0.7"/>
<line x1="244.1" y1="775" x2="244.1" y2="817" stroke="#555" stroke-width="0.7"/>
<line x1="246.1" y1="775" x2="246.1" y2="817" stroke="#555" stroke-width="0.7"/>
<line x1="637.8" y1="725" x2="637.8" y2="746" stroke="#555" stroke-width="0.7"/>
<line x1="639.6" y1="725" x2="639.6" y2="746" stroke="#555" stroke-width="0.7"/>
<line x1="637.8" y1="775" x2="637.8" y2="817" stroke="#555" stroke-width="0.7"/>
<line x1="639.6" y1="775" x2="639.6" y2="817" stroke="#555" stroke-width="0.7"/>
<rect x="582.9" y="775" width="51.8" height="40.8" stroke="#2a2a2a" stroke-width="1" fill="none"/>
<rect x="624.0" y="764.5" width="10.7" height="10.5" stroke="#2a2a2a" stroke-width="1" fill="none"/>
<rect x="624.0" y="815.8" width="10.7" height="10.5" stroke="#2a2a2a" stroke-width="1" fill="none"/>
<polygon points="623.8000000000001,776 617.7,780 627.8000000000001,795.4" stroke="#2a2a2a" stroke-width="0.9" fill="none"/>
<polygon points="627.8000000000001,795.4 617.7,811.8 623.8000000000001,815.3" stroke="#2a2a2a" stroke-width="0.9" fill="none"/>
<line x1="280" y1="749.3" x2="280" y2="846" stroke="#2a2a2a" stroke-width="0.9"/>
<rect x="276" y="785" width="8.5" height="17" fill="#fff"/>
<text x="280" y="793.5" font-family="Liberation Sans" font-size="8.5" text-anchor="middle" dominant-baseline="central" font-weight="normal" font-style="normal" letter-spacing="0" fill="#222" stroke="#222" stroke-width="0.25" transform="rotate(-90 280 793.5)">3,70</text>
<line x1="248" y1="816.4" x2="635.3" y2="816.4" stroke="#2a2a2a" stroke-width="0.9"/>
<rect x="285.5" y="812.5" width="18" height="8" fill="#fff"/>
<text x="294.5" y="816.5" font-family="Liberation Sans" font-size="8.5" text-anchor="middle" dominant-baseline="central" font-weight="normal" font-style="normal" letter-spacing="0" fill="#222" stroke="#222" stroke-width="0.25">3,60</text>
<rect x="382.5" y="812.5" width="18" height="8" fill="#fff"/>
<text x="391.5" y="816.5" font-family="Liberation Sans" font-size="8.5" text-anchor="middle" dominant-baseline="central" font-weight="normal" font-style="normal" letter-spacing="0" fill="#222" stroke="#222" stroke-width="0.25">3,60</text>
<rect x="484" y="812.5" width="18" height="8" fill="#fff"/>
<text x="493" y="816.5" font-family="Liberation Sans" font-size="8.5" text-anchor="middle" dominant-baseline="central" font-weight="normal" font-style="normal" letter-spacing="0" fill="#222" stroke="#222" stroke-width="0.25">3,60</text>
<rect x="580" y="812.5" width="18" height="8" fill="#fff"/>
<text x="589" y="816.5" font-family="Liberation Sans" font-size="8.5" text-anchor="middle" dominant-baseline="central" font-weight="normal" font-style="normal" letter-spacing="0" fill="#222" stroke="#222" stroke-width="0.25">3,60</text>
<text x="314.3" y="790.2" font-family="Liberation Sans" font-size="8.7" text-anchor="middle" dominant-baseline="central" font-weight="bold" font-style="normal" letter-spacing="0" fill="#222" textLength="44" lengthAdjust="spacingAndGlyphs" transform="rotate(-90 314.3 790.2)">ΥΠΝΟΔΩΜΑΤΙΟ</text>
<text x="404.2" y="789.2" font-family="Liberation Sans" font-size="8.7" text-anchor="middle" dominant-baseline="central" font-weight="bold" font-style="normal" letter-spacing="0" fill="#222" textLength="44" lengthAdjust="spacingAndGlyphs" transform="rotate(-90 404.2 789.2)">ΥΠΝΟΔΩΜΑΤΙΟ</text>
<text x="480.8" y="789.2" font-family="Liberation Sans" font-size="8.7" text-anchor="middle" dominant-baseline="central" font-weight="bold" font-style="normal" letter-spacing="0" fill="#222" textLength="44" lengthAdjust="spacingAndGlyphs" transform="rotate(-90 480.8 789.2)">ΥΠΝΟΔΩΜΑΤΙΟ</text>
<text x="570.4" y="790.4" font-family="Liberation Sans" font-size="8.7" text-anchor="middle" dominant-baseline="central" font-weight="bold" font-style="normal" letter-spacing="0" fill="#222" textLength="44" lengthAdjust="spacingAndGlyphs" transform="rotate(-90 570.4 790.4)">ΥΠΝΟΔΩΜΑΤΙΟ</text>
<rect x="386.25" y="749.4" width="51.55" height="31.2" stroke="#2a2a2a" stroke-width="1" fill="none"/>
<rect x="392.5" y="752.5" width="39.1" height="25.8" stroke="#2a2a2a" stroke-width="1" fill="none"/>
<polyline points="431.6,758 421.4,773.6 426.9,777.5 431.6,758" stroke="#2a2a2a" stroke-width="0.9" fill="none"/>
<rect x="427.7" y="780.6" width="10.1" height="11.7" stroke="#2a2a2a" stroke-width="1" fill="none"/>
<rect x="445.6" y="749.4" width="51.6" height="31.2" stroke="#2a2a2a" stroke-width="1" fill="none"/>
<rect x="451.9" y="752.5" width="40.6" height="25.8" stroke="#2a2a2a" stroke-width="1" fill="none"/>
<polyline points="451.9,753.3 462,773.6 457.3,777.5 451.9,753.3" stroke="#2a2a2a" stroke-width="0.9" fill="none"/>
<rect x="445.6" y="780.6" width="10.1" height="11.7" stroke="#2a2a2a" stroke-width="1" fill="none"/>
<line x1="506.5" y1="749.3" x2="506.5" y2="846" stroke="#2a2a2a" stroke-width="0.9"/>
<text x="506.5" y="800" font-family="Liberation Sans" font-size="4.5" text-anchor="middle" dominant-baseline="central" font-weight="normal" font-style="normal" letter-spacing="0" fill="#777" transform="rotate(-90 506.5 800)">3,70</text>
<rect x="402.7" y="829" width="35.1" height="16.7" stroke="#2a2a2a" stroke-width="1" fill="none"/>
<rect x="415" y="824.4" width="11" height="4.6" stroke="#2a2a2a" stroke-width="1" fill="none"/>
<line x1="415.5" y1="824.4" x2="425.5" y2="824.4" stroke="#2a2a2a" stroke-width="1.8"/>
<rect x="445.6" y="829" width="36.7" height="16.7" stroke="#2a2a2a" stroke-width="1" fill="none"/>
<rect x="458" y="824.4" width="11" height="4.6" stroke="#2a2a2a" stroke-width="1" fill="none"/>
<line x1="458.5" y1="824.4" x2="468.5" y2="824.4" stroke="#2a2a2a" stroke-width="1.8"/>
<line x1="242.2" y1="845.7" x2="641.7" y2="845.7" stroke="#2a2a2a" stroke-width="1.1"/>
<line x1="242.2" y1="851.5" x2="641.7" y2="851.5" stroke="#2a2a2a" stroke-width="1.1"/>
<line x1="255.7" y1="845.7" x2="255.7" y2="851.5" stroke="#2a2a2a" stroke-width="0.8"/>
<line x1="267.3" y1="845.7" x2="267.3" y2="851.5" stroke="#2a2a2a" stroke-width="0.8"/>
<line x1="319" y1="845.7" x2="319" y2="851.5" stroke="#2a2a2a" stroke-width="0.8"/>
<line x1="337.3" y1="845.7" x2="337.3" y2="851.5" stroke="#2a2a2a" stroke-width="0.8"/>
<line x1="353" y1="845.7" x2="353" y2="851.5" stroke="#2a2a2a" stroke-width="0.8"/>
<line x1="367" y1="845.7" x2="367" y2="851.5" stroke="#2a2a2a" stroke-width="0.8"/>
<line x1="419.5" y1="845.7" x2="419.5" y2="851.5" stroke="#2a2a2a" stroke-width="0.8"/>
<line x1="438.5" y1="845.7" x2="438.5" y2="851.5" stroke="#2a2a2a" stroke-width="0.8"/>
<line x1="445.7" y1="845.7" x2="445.7" y2="851.5" stroke="#2a2a2a" stroke-width="0.8"/>
<line x1="464.8" y1="845.7" x2="464.8" y2="851.5" stroke="#2a2a2a" stroke-width="0.8"/>
<line x1="516.4" y1="845.7" x2="516.4" y2="851.5" stroke="#2a2a2a" stroke-width="0.8"/>
<line x1="527.5" y1="845.7" x2="527.5" y2="851.5" stroke="#2a2a2a" stroke-width="0.8"/>
<line x1="543.5" y1="845.7" x2="543.5" y2="851.5" stroke="#2a2a2a" stroke-width="0.8"/>
<line x1="565.4" y1="845.7" x2="565.4" y2="851.5" stroke="#2a2a2a" stroke-width="0.8"/>
<line x1="617.8" y1="845.7" x2="617.8" y2="851.5" stroke="#2a2a2a" stroke-width="0.8"/>
<line x1="629" y1="845.7" x2="629" y2="851.5" stroke="#2a2a2a" stroke-width="0.8"/>
<line x1="267.3" y1="847.9" x2="319" y2="847.9" stroke="#2a2a2a" stroke-width="0.8"/>
<line x1="267.3" y1="849.4" x2="319" y2="849.4" stroke="#2a2a2a" stroke-width="0.8"/>
<line x1="367" y1="847.9" x2="419.5" y2="847.9" stroke="#2a2a2a" stroke-width="0.8"/>
<line x1="367" y1="849.4" x2="419.5" y2="849.4" stroke="#2a2a2a" stroke-width="0.8"/>
<line x1="464.8" y1="847.9" x2="516.4" y2="847.9" stroke="#2a2a2a" stroke-width="0.8"/>
<line x1="464.8" y1="849.4" x2="516.4" y2="849.4" stroke="#2a2a2a" stroke-width="0.8"/>
<line x1="565.4" y1="847.9" x2="617.8" y2="847.9" stroke="#2a2a2a" stroke-width="0.8"/>
<line x1="565.4" y1="849.4" x2="617.8" y2="849.4" stroke="#2a2a2a" stroke-width="0.8"/>
<rect x="242.2" y="839" width="6.3" height="12.5" fill="#111"/>
<rect x="248.5" y="845.7" width="7.2" height="5.8" fill="#111"/>
<rect x="337.3" y="845.7" width="15.7" height="5.8" fill="#111"/>
<rect x="438.5" y="836" width="7.2" height="15.5" fill="#111"/>
<rect x="527.5" y="845.7" width="16.0" height="5.8" fill="#111"/>
<rect x="635.4" y="839" width="6.3" height="12.5" fill="#111"/>
<rect x="629" y="845.7" width="6.4" height="5.8" fill="#111"/>
<pattern id="p_balB1" patternUnits="userSpaceOnUse" x="239.2" y="856.3" width="7.13" height="7.22"><path d="M0.5,1 H6 V6.72" stroke="#4a4a4a" stroke-width="0.95" fill="none"/></pattern>
<polygon points="242.2,851.5 343.5,851.5 343.5,890.6 242.2,890.6" fill="url(#p_balB1)" stroke="#3a3a3a" stroke-width="1.0"/>
<rect x="242.2" y="851.5" width="107.3" height="39.1" stroke="#3a3a3a" stroke-width="1.2" fill="none"/>
<rect x="344.6" y="854.0" width="3.6" height="3.5" stroke="#666" stroke-width="0.6" fill="none"/>
<rect x="344.6" y="859.9" width="3.6" height="3.5" stroke="#666" stroke-width="0.6" fill="none"/>
<rect x="344.6" y="865.8" width="3.6" height="3.5" stroke="#666" stroke-width="0.6" fill="none"/>
<rect x="344.6" y="871.7" width="3.6" height="3.5" stroke="#666" stroke-width="0.6" fill="none"/>
<rect x="344.6" y="877.6" width="3.6" height="3.5" stroke="#666" stroke-width="0.6" fill="none"/>
<rect x="344.6" y="883.5" width="3.6" height="3.5" stroke="#666" stroke-width="0.6" fill="none"/>
<pattern id="p_balB2" patternUnits="userSpaceOnUse" x="547.1" y="856.3" width="7.13" height="7.25"><path d="M0.5,1 H6 V6.75" stroke="#4a4a4a" stroke-width="0.95" fill="none"/></pattern>
<polygon points="547,851.5 642.6,851.5 642.6,890.8 547,890.8" fill="url(#p_balB2)" stroke="#3a3a3a" stroke-width="1.0"/>
<rect x="535.3" y="851.5" width="107.3" height="39.3" stroke="#3a3a3a" stroke-width="1.2" fill="none"/>
<rect x="537" y="854.0" width="3.6" height="3.5" stroke="#666" stroke-width="0.6" fill="none"/>
<rect x="537" y="859.9" width="3.6" height="3.5" stroke="#666" stroke-width="0.6" fill="none"/>
<rect x="537" y="865.8" width="3.6" height="3.5" stroke="#666" stroke-width="0.6" fill="none"/>
<rect x="537" y="871.7" width="3.6" height="3.5" stroke="#666" stroke-width="0.6" fill="none"/>
<rect x="537" y="877.6" width="3.6" height="3.5" stroke="#666" stroke-width="0.6" fill="none"/>
<rect x="537" y="883.5" width="3.6" height="3.5" stroke="#666" stroke-width="0.6" fill="none"/>
</svg></body></html>
